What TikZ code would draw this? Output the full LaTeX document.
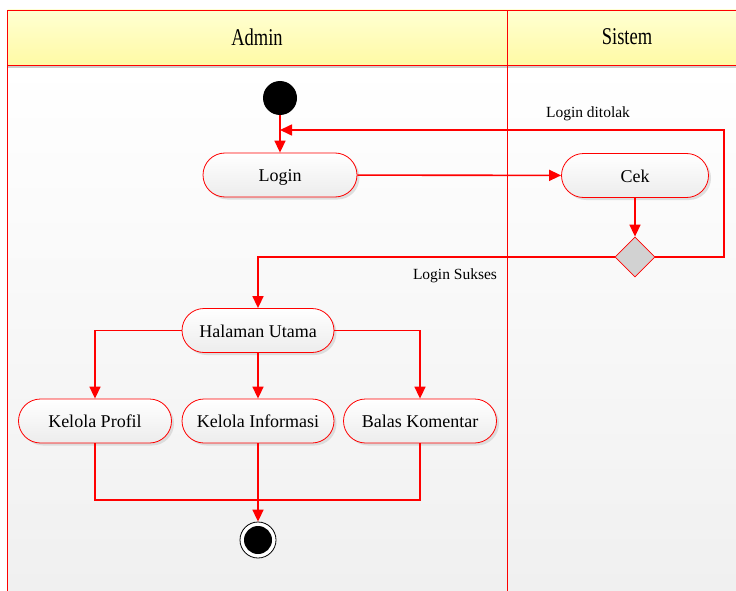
\documentclass[tikz,border=0pt]{standalone}
\usepackage{fontspec}
\setmainfont{Liberation Serif}
\usetikzlibrary{arrows.meta,shadows,shapes.geometric}
\definecolor{hdtop}{RGB}{255,255,210}
\definecolor{hdbot}{RGB}{255,250,165}
\definecolor{bodybot}{RGB}{240,240,240}
\definecolor{actbot}{RGB}{236,236,236}
\begin{document}
\begin{tikzpicture}[x=1pt,y=-1pt,
 act/.style={draw=red, line width=0.8pt, rounded corners=22pt, minimum height=44pt,
   top color=white, bottom color=actbot,
   drop shadow={shadow xshift=2.5pt,shadow yshift=-2.5pt,fill=gray!40,opacity=0.6},
   font=\fontsize{18}{21}\selectfont, inner sep=0pt, text height=15pt, text depth=2pt},
 flow/.style={draw=red, line width=1.6pt, -{Triangle[length=12pt,width=11pt]}},
 line/.style={draw=red, line width=1.6pt},
 lane/.style={draw=red, line width=1pt},
 lbl/.style={font=\fontsize{15.5}{18}\selectfont},
 hdr/.style={font=\fontsize{18.5}{21}\selectfont}
]
\useasboundingbox (0,0) rectangle (736,591);
% swimlanes
\shade[top color=white, bottom color=bodybot] (7.5,65) rectangle (736,591);
\shade[top color=hdtop, bottom color=hdbot] (7.5,10) rectangle (736,65);
\draw[gray!40, line width=2pt] (7.5,67) -- (736,67);
\draw[lane] (736,10.5) -- (7.5,10.5) -- (7.5,591);
\draw[lane] (7.5,65.5) -- (736,65.5);
\draw[lane] (507.5,10.5) -- (507.5,591);
\node[hdr] (hadmin) at (257,37) {\scalebox{1}[1.3]{Admin}};
\node[hdr] (hsistem) at (627,37) {\scalebox{1}[1.3]{Sistem}};
% nodes
\node[circle, fill=black, minimum size=34pt, inner sep=0pt] (start) at (280,98) {};
\node[act, minimum width=154pt] (login) at (280,175) {Login};
\node[act, minimum width=147pt] (cek) at (635,175.5) {Cek};
\node[diamond, draw=red, line width=0.8pt, fill=gray!35, minimum width=40pt, minimum height=40pt, inner sep=0pt] (dec) at (635,257) {};
\node[act, minimum width=152pt] (home) at (258,330.5) {Halaman Utama};
\node[act, minimum width=153pt] (kp) at (95,421) {Kelola Profil};
\node[act, minimum width=152pt] (ki) at (258,421) {Kelola Informasi};
\node[act, minimum width=153pt] (bk) at (420,421) {Balas Komentar};
\node[circle, draw=black, fill=white, line width=0.8pt, minimum size=36pt, inner sep=0pt] (end) at (258,540) {};
\node[circle, fill=black, minimum size=28pt, inner sep=0pt] (endin) at (end) {};
% labels
\node[lbl] (lt) at (588,114) {Login ditolak};
\node[lbl] (ls) at (455,276) {Login Sukses};
% coordinates
\coordinate (j1) at (280,130);
\coordinate (r1) at (724,257);
\coordinate (r2) at (724,130);
\coordinate (m) at (258,500);
% connectors
\draw[flow] (start) -- (login);
\draw[flow] (dec.east) -- (r1) -- (r2) -- (j1);
\draw[flow] (login) -- (cek);
\draw[flow] (cek) -- (dec);
\draw[flow] (dec.west) -| (home.north);
\draw[flow] (home.west) -| (kp.north);
\draw[flow] (home.east) -| (bk.north);
\draw[flow] (home) -- (ki);
\draw[line] (kp.south) |- (m) -| (bk.south);
\draw[flow] (ki) -- (end);
\end{tikzpicture}
\end{document}
